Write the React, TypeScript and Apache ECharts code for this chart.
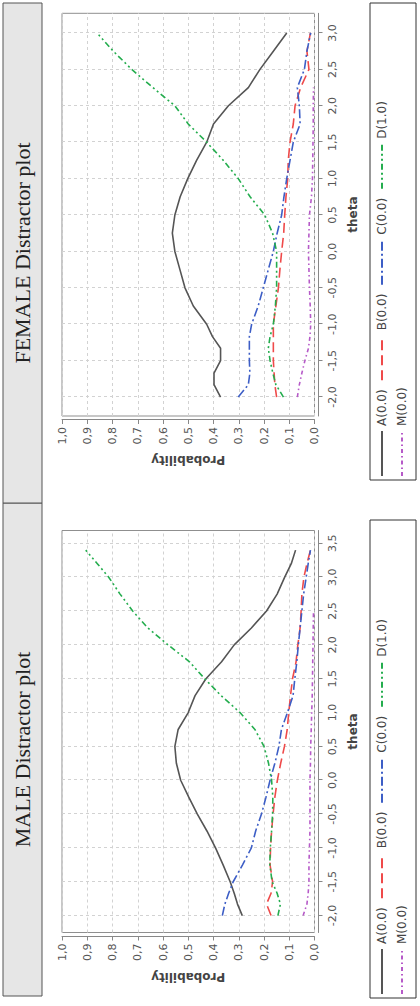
import React, { useEffect, useRef } from "react";
import * as echarts from "echarts";

// ---------- data ----------
const seriesNames = ["A(0.0)", "B(0.0)", "C(0.0)", "D(1.0)", "M(0.0)"];

const thetaMale = [-2.0, -1.83, -1.67, -1.5, -1.25, -1.0, -0.75, -0.5, -0.25, 0, 0.25, 0.5, 0.75, 1.0, 1.25, 1.5, 1.75, 2.0, 2.25, 2.5, 2.75, 3.0, 3.2, 3.4];
const maleA = [0.286, 0.305, 0.318, 0.334, 0.362, 0.392, 0.426, 0.464, 0.498, 0.53, 0.547, 0.553, 0.54, 0.5, 0.473, 0.43, 0.368, 0.318, 0.25, 0.19, 0.148, 0.118, 0.092, 0.075];
const maleB = [0.172, 0.19, 0.172, 0.166, 0.176, 0.174, 0.17, 0.164, 0.157, 0.147, 0.134, 0.119, 0.108, 0.102, 0.095, 0.087, 0.073, 0.066, 0.057, 0.053, 0.05, 0.042, 0.03, 0.016];
const maleC = [0.365, 0.355, 0.34, 0.322, 0.285, 0.25, 0.233, 0.21, 0.192, 0.176, 0.157, 0.141, 0.131, 0.107, 0.085, 0.078, 0.07, 0.064, 0.057, 0.05, 0.043, 0.033, 0.025, 0.016];
const maleD = [0.145, 0.135, 0.148, 0.168, 0.177, 0.175, 0.17, 0.166, 0.165, 0.17, 0.182, 0.2, 0.236, 0.295, 0.37, 0.435, 0.495, 0.58, 0.66, 0.72, 0.77, 0.815, 0.86, 0.906];
const maleM = [0.045, 0.03, 0.025, 0.022, 0.022, 0.02, 0.018, 0.018, 0.018, 0.018, 0.016, 0.015, 0.013, 0.011, 0.009, 0.008, 0.007, 0.006, 0.005, 0.004, null, null, null, null];

const thetaFemale = [-2.0, -1.83, -1.67, -1.5, -1.33, -1.17, -1.0, -0.75, -0.5, -0.25, 0, 0.25, 0.5, 0.75, 1.0, 1.25, 1.5, 1.75, 2.0, 2.25, 2.5, 2.75, 3.0];
const femaleA = [0.372, 0.398, 0.398, 0.372, 0.372, 0.404, 0.427, 0.48, 0.513, 0.533, 0.553, 0.563, 0.553, 0.532, 0.502, 0.467, 0.427, 0.4, 0.341, 0.262, 0.216, 0.163, 0.11];
const femaleB = [0.15, 0.157, 0.16, 0.163, 0.163, 0.163, 0.163, 0.153, 0.143, 0.137, 0.13, 0.122, 0.118, 0.113, 0.106, 0.104, 0.097, 0.084, 0.077, 0.055, 0.022, 0.03, 0.016];
const femaleC = [0.302, 0.262, 0.256, 0.258, 0.258, 0.258, 0.249, 0.223, 0.203, 0.183, 0.163, 0.148, 0.13, 0.121, 0.11, 0.097, 0.084, 0.057, 0.06, 0.068, 0.04, 0.03, 0.015];
const femaleD = [0.123, 0.153, 0.165, 0.176, 0.183, 0.176, 0.163, 0.155, 0.15, 0.15, 0.15, 0.166, 0.197, 0.255, 0.302, 0.361, 0.427, 0.5, 0.553, 0.64, 0.724, 0.797, 0.861];
const femaleM = [0.068, 0.06, 0.05, 0.038, 0.024, 0.018, 0.015, 0.017, 0.02, 0.022, 0.024, 0.022, 0.02, 0.012, 0.008, 0.007, 0.006, 0.005, 0.005, 0.004, null, null, null];

const thetaTicksMale = [-2, -1.5, -1, -0.5, 0, 0.5, 1, 1.5, 2, 2.5, 3, 3.5];
const thetaTicksFemale = [-2, -1.5, -1, -0.5, 0, 0.5, 1, 1.5, 2, 2.5, 3];

const titles = ["MALE Distractor plot", "FEMALE Distractor plot"];

// ---------- styles ----------
const colors = ["#555555", "#ef4a4a", "#3d5ec6", "#24ad4e", "#b65ac8"];
const dashes: any[] = ["solid", [10, 5], [9, 3, 2, 3], [6, 3, 2, 3, 2, 3], [4, 3, 1.5, 3]];
const SANS = '"DejaVu Sans", sans-serif';
const W = 1006;
const H = 420;

const fmt = (v: number) => v.toFixed(1).replace(".", ",");

function App() {
  const ref = useRef<HTMLDivElement>(null);
  useEffect(() => {
    if (!ref.current) return;
    const chart = echarts.init(ref.current, null, { renderer: "svg" });

    const panels = [
      { theta: thetaMale, vals: [maleA, maleB, maleC, maleD, maleM], ticks: thetaTicksMale, min: -2.25, max: 3.69, left: 73.5, width: 402, strip: [10, 503], legendBox: [8, 486] },
      { theta: thetaFemale, vals: [femaleA, femaleB, femaleC, femaleD, femaleM], ticks: thetaTicksFemale, min: -2.26, max: 3.27, left: 590, width: 402.7, strip: [503, 1003], legendBox: [526, 1003] },
    ];
    const gridTop = 62;
    const gridH = 252.5;

    const grids: any[] = [];
    const xAxes: any[] = [];
    const yAxes: any[] = [];
    const series: any[] = [];
    const legends: any[] = [];
    const graphics: any[] = [];

    panels.forEach((p, pi) => {
      grids.push({ left: p.left, top: gridTop, width: p.width, height: gridH, show: true, borderColor: "#8f8f8f", borderWidth: 1, backgroundColor: "#fff" });
      xAxes.push({
        type: "value", gridIndex: pi, min: p.min, max: p.max, position: "bottom", offset: 4,
        name: "theta", nameLocation: "middle", nameGap: 28,
        nameTextStyle: { fontFamily: SANS, fontWeight: "bold", fontSize: 12, color: "#444" },
        axisLine: { show: true, onZero: false, lineStyle: { color: "#888", width: 1 } },
        axisTick: { show: true, length: 4, lineStyle: { color: "#888" }, customValues: p.ticks },
        axisLabel: { customValues: p.ticks, formatter: fmt, fontFamily: SANS, fontSize: 11, color: "#555", margin: 8 },
        splitLine: { show: true, lineStyle: { color: "#d2d2d2", type: [3, 3], width: 1 } },
      });
      yAxes.push({
        type: "value", gridIndex: pi, min: 0, max: 1, interval: 0.1, position: "left", offset: 4,
        name: "Probability", nameLocation: "middle", nameGap: 34,
        nameTextStyle: { fontFamily: SANS, fontWeight: "bold", fontSize: 12, color: "#444" },
        axisLine: { show: true, onZero: false, lineStyle: { color: "#888", width: 1 } },
        axisTick: { show: true, length: 4, lineStyle: { color: "#888" } },
        axisLabel: { formatter: fmt, fontFamily: SANS, fontSize: 11, color: "#555", margin: 7 },
        splitLine: { show: true, lineStyle: { color: "#d2d2d2", type: [3, 3], width: 1 } },
      });
      p.vals.forEach((arr, si) => {
        const data = p.theta.map((t, i) => [t, arr[i]]).filter((d) => d[1] !== null);
        series.push({
          type: "line", name: seriesNames[si], xAxisIndex: pi, yAxisIndex: pi,
          data, symbol: "circle", symbolSize: 0, showSymbol: false, smooth: false,
          lineStyle: { color: colors[si], width: 1.6, type: dashes[si] },
          itemStyle: { color: colors[si] },
        });
      });
      legends.push({
        data: seriesNames, left: p.legendBox[0] + 3, top: 376, width: 400, orient: "horizontal",
        itemWidth: 45, itemHeight: 12, itemGap: 8, padding: 0,
        itemStyle: { opacity: 0, borderWidth: 0 },
        textStyle: { fontFamily: SANS, fontSize: 12, color: "#444", width: 40 },
      });
      // legend box
      graphics.push({
        type: "rect", z: -1,
        shape: { x: p.legendBox[0], y: 370, width: p.legendBox[1] - p.legendBox[0], height: 46 },
        style: { fill: "#fff", stroke: "#333", lineWidth: 1 },
      });
      // title strip
      graphics.push({
        type: "rect", z: -1,
        shape: { x: p.strip[0], y: 3, width: p.strip[1] - p.strip[0], height: 39 },
        style: { fill: "#e6e6e6", stroke: "#555", lineWidth: 1 },
      });
      graphics.push({
        type: "text",
        style: {
          text: titles[pi], x: (p.strip[0] + p.strip[1]) / 2, y: 22.5, align: "center", verticalAlign: "middle",
          font: '22px "Liberation Serif", serif', fill: "#222",
        },
      });
    });

    chart.setOption({
      animation: false,
      backgroundColor: "#fff",
      grid: grids,
      xAxis: xAxes,
      yAxis: yAxes,
      legend: legends,
      series,
      graphic: graphics,
    });
    return () => chart.dispose();
  }, []);

  return (
    <div style={{ position: "fixed", left: 0, top: 0, width: 420, height: 1006, overflow: "hidden", background: "#fff" }}>
      <div
        ref={ref}
        style={{
          position: "absolute", left: 0, top: 0, width: W, height: H,
          transformOrigin: "0 0", transform: "translate(0px, 1006px) rotate(-90deg)",
        }}
      />
    </div>
  );
}

export default App;
